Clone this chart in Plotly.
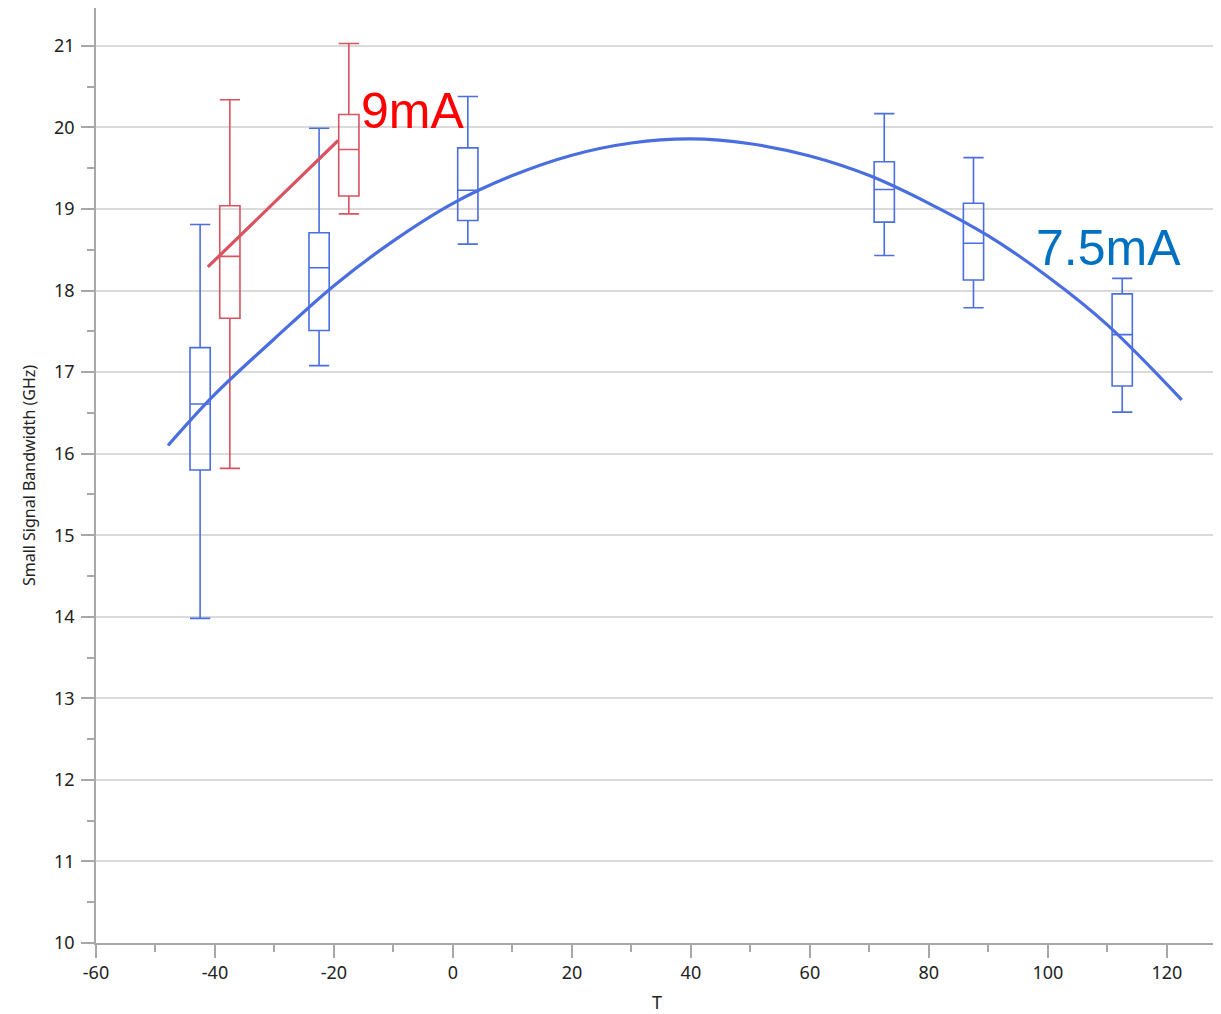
import plotly.graph_objects as go

# ---- data ----
blue_x = [-42.5, -22.5, 2.5, 72.5, 87.5, 112.5]
blue_low = [13.98, 17.08, 18.57, 18.43, 17.79, 16.51]
blue_q1 = [15.80, 17.51, 18.86, 18.84, 18.13, 16.83]
blue_med = [16.61, 18.28, 19.23, 19.24, 18.58, 17.46]
blue_q3 = [17.30, 18.71, 19.75, 19.58, 19.07, 17.96]
blue_high = [18.81, 19.99, 20.38, 20.17, 19.63, 18.15]

red_x = [-37.5, -17.5]
red_low = [15.82, 18.94]
red_q1 = [17.66, 19.16]
red_med = [18.42, 19.73]
red_q3 = [19.04, 20.16]
red_high = [20.34, 21.03]

fit_blue_x = [-47.9, -40, -30, -20, -10, 0, 10, 20, 30, 40, 50, 60, 70, 80, 90,
              100, 110, 122.5]
fit_blue_y = [16.10, 16.73, 17.41, 18.06, 18.61, 19.07, 19.41, 19.66, 19.81, 19.86,
              19.80, 19.65, 19.41, 19.07, 18.67, 18.17, 17.58, 16.66]

fit_red_x = [-41.2, -19.3]
fit_red_y = [18.29, 19.84]

labels = ["9mA", "7.5mA"]
label_x = [-15.8, 97.6]
label_y = [20.2, 18.52]

x_ticks = [-60, -40, -20, 0, 20, 40, 60, 80, 100, 120]
x_ticktext = ["-60", "-40", "-20", "0", "20", "40", "60", "80", "100", "120"]
y_ticks = [10, 11, 12, 13, 14, 15, 16, 17, 18, 19, 20, 21]

BLUE = "#4a6ee0"
RED = "#d9525f"
AXIS = "#a8a8a8"

fig = go.Figure()

fig.add_trace(go.Scatter(x=fit_blue_x, y=fit_blue_y, mode="lines",
                         line=dict(color=BLUE, width=3.2, shape="spline", smoothing=1.0),
                         showlegend=False, hoverinfo="skip"))
fig.add_trace(go.Scatter(x=fit_red_x, y=fit_red_y, mode="lines",
                         line=dict(color=RED, width=3.2),
                         showlegend=False, hoverinfo="skip"))

fig.add_trace(go.Box(x=blue_x, q1=blue_q1, median=blue_med, q3=blue_q3,
                     lowerfence=blue_low, upperfence=blue_high,
                     width=3.4, whiskerwidth=1, boxpoints=False,
                     line=dict(color=BLUE, width=1.6), fillcolor="rgba(255,255,255,0)",
                     showlegend=False))
fig.add_trace(go.Box(x=red_x, q1=red_q1, median=red_med, q3=red_q3,
                     lowerfence=red_low, upperfence=red_high,
                     width=3.4, whiskerwidth=1, boxpoints=False,
                     line=dict(color=RED, width=1.6), fillcolor="rgba(255,255,255,0)",
                     showlegend=False))

fig.add_annotation(x=label_x[0], y=label_y[0], text=labels[0], showarrow=False,
                   xanchor="left", yanchor="middle",
                   font=dict(family="Liberation Sans, Arial", size=50, color="#ff0000"))
fig.add_annotation(x=label_x[1], y=label_y[1], text=labels[1], showarrow=False,
                   xanchor="left", yanchor="middle",
                   font=dict(family="Liberation Sans, Arial", size=50, color="#0070c0"))

fig.update_layout(
    width=1213, height=1006,
    margin=dict(l=88, r=3, t=0, b=71, autoexpand=False),
    paper_bgcolor="white", plot_bgcolor="white",
    boxmode="overlay",
    font=dict(family="Noto Sans, Open Sans, DejaVu Sans", color="#333333"),
    xaxis=dict(range=[-60, 128.6], tickmode="array", tickvals=x_ticks, ticktext=x_ticktext,
               ticks="outside", ticklen=13, tickcolor=AXIS, tickwidth=1.5,
               minor=dict(dtick=10, tick0=-60, ticks="outside", ticklen=7, tickcolor=AXIS,
                          tickwidth=1.5),
               showgrid=False, zeroline=False, automargin=False,
               showline=True, linecolor=AXIS, linewidth=1.5, mirror=True,
               tickfont=dict(size=18, color="#222222"),
               title=dict(text="T", font=dict(size=18, color="#222222"), standoff=15)),
    yaxis=dict(range=[10, 21.465], tickmode="array", tickvals=y_ticks,
               ticks="outside", ticklen=13, tickcolor=AXIS, tickwidth=1.5,
               minor=dict(dtick=0.5, tick0=10, ticks="outside", ticklen=7, tickcolor=AXIS,
                          tickwidth=1.5, showgrid=False),
               showgrid=True, gridcolor="#dadada", gridwidth=1.5, zeroline=False,
               automargin=False, ticklabelstandoff=3,
               showline=True, linecolor=AXIS, linewidth=1.5, mirror=False,
               tickfont=dict(size=18, color="#222222"),
               title=dict(text="Small Signal Bandwidth (GHz)",
                          font=dict(size=16, color="#222222"), standoff=14)),
)

fig.write_html("out.html")
